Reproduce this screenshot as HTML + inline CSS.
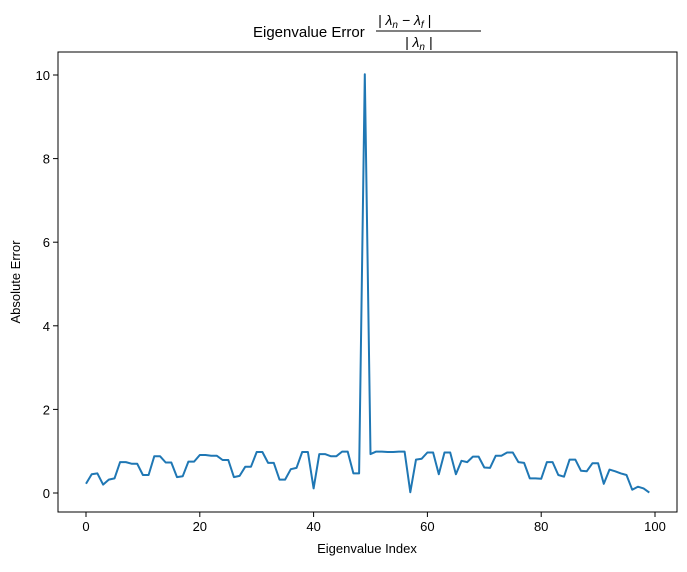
<!DOCTYPE html>
<html><head><meta charset="utf-8"><style>
body{margin:0;background:#fff;}
svg text{font-family:"Liberation Sans","DejaVu Sans",sans-serif;fill:#000;}
</style></head><body>
<svg id="chart" width="687" height="567" viewBox="0 0 687 567">
<rect x="0" y="0" width="687" height="567" fill="#fff"/>
<g id="title">
<text x="253" y="37" font-size="15">Eigenvalue Error</text>
<text x="378" y="25" font-size="14" font-style="italic">| λ<tspan font-size="10" dy="3">n</tspan><tspan dy="-3"> − λ</tspan><tspan font-size="10" dy="3">f</tspan><tspan dy="-3"> |</tspan></text>
<line x1="376" y1="31" x2="481" y2="31" stroke="#000" stroke-width="1"/>
<text x="405" y="47" font-size="14" font-style="italic">| λ<tspan font-size="10" dy="3">n</tspan><tspan dy="-3"> |</tspan></text>
</g>
<g id="axes"></g>
<text x="367" y="553" font-size="13" text-anchor="middle">Eigenvalue Index</text>
<text transform="translate(20,282) rotate(-90)" font-size="13" text-anchor="middle">Absolute Error</text>
</svg>
<script>
const xTicks=[0,20,40,60,80,100];
const yTicks=[0,2,4,6,8,10];
const errors=[0.22,0.45,0.47,0.2,0.32,0.35,0.74,0.74,0.7,0.7,0.43,0.43,0.88,0.88,0.73,0.73,0.38,0.4,0.75,0.75,
0.91,0.91,0.89,0.89,0.79,0.79,0.38,0.41,0.63,0.63,0.98,0.98,0.72,0.72,0.32,0.32,0.57,0.6,0.98,0.98,
0.11,0.93,0.93,0.88,0.88,0.99,0.99,0.47,0.47,10.02,0.93,0.99,0.99,0.98,0.98,0.99,0.99,0.02,0.8,0.82,
0.97,0.97,0.45,0.97,0.97,0.45,0.77,0.74,0.87,0.87,0.61,0.6,0.89,0.89,0.97,0.97,0.74,0.72,0.35,0.35,
0.34,0.74,0.74,0.43,0.39,0.8,0.8,0.53,0.52,0.71,0.71,0.22,0.56,0.52,0.47,0.43,0.08,0.15,0.11,0.01];
const NS='http://www.w3.org/2000/svg';
const g=document.getElementById('axes');
const L=58,R=677,T=52,B=512;
const xs=v=>86+v*(655-86)/100;
const ys=v=>493-v*(493-75)/10;
function mk(t,a){const e=document.createElementNS(NS,t);for(const k in a)e.setAttribute(k,a[k]);g.appendChild(e);return e;}
xTicks.forEach(t=>{
 const l=mk('line',{x1:xs(t),x2:xs(t),y1:B,y2:B+5,stroke:'#000','stroke-width':1});
 
 
 const tx=mk('text',{x:xs(t),y:B+19,'font-size':13,'text-anchor':'middle'});tx.textContent=t;
 
 
});
yTicks.forEach(t=>{
 const l=mk('line',{x1:L-5,x2:L,y1:ys(t),y2:ys(t),stroke:'#000','stroke-width':1});
 
 
 const tx=mk('text',{x:L-8,y:ys(t)+5,'font-size':13,'text-anchor':'end'});tx.textContent=t;
 
 
});
const d=errors.map((v,i)=>(i?'L':'M')+xs(i).toFixed(1)+' '+ys(v).toFixed(1)).join(' ');
const p=mk('path',{d:d,fill:'none',stroke:'#1f77b4','stroke-width':2,'stroke-linejoin':'round'});


const f=mk('rect',{x:L,y:T,width:R-L,height:B-T,fill:'none',stroke:'#000','stroke-width':1});


</script>
</body></html>
